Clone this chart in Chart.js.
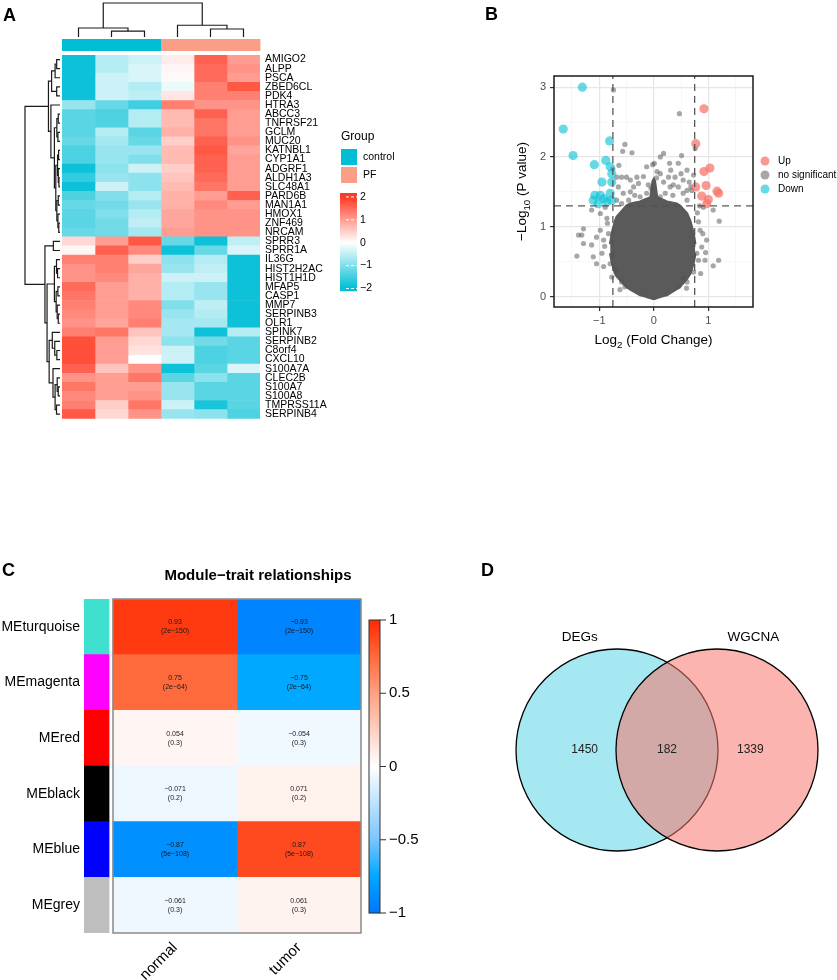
<!DOCTYPE html>
<html>
<head>
<meta charset="utf-8">
<script src="https://cdn.jsdelivr.net/npm/chart.js@4.4.1/dist/chart.umd.min.js"></script>
<style>
  body { margin: 0; background: #fff; }
  #page { position: relative; width: 837px; height: 980px; background: #fff; overflow: hidden; }
  canvas { position: absolute; }
  .tag { position: absolute; font: bold 18px/18px "Liberation Sans", Arial, sans-serif; color: #000; }
</style>
</head>
<body>
<div id="page">
  <canvas id="heatA" width="430" height="430" style="left:0;top:0"></canvas>
  <canvas id="volcanoB" width="407" height="360" style="left:430px;top:0"></canvas>
  <canvas id="traitC" width="430" height="420" style="left:0;top:560px"></canvas>
  <canvas id="vennD" width="407" height="420" style="left:430px;top:560px"></canvas>
  <div class="tag" style="left:3px;top:6px">A</div>
  <div class="tag" style="left:485px;top:5px">B</div>
  <div class="tag" style="left:2px;top:561px">C</div>
  <div class="tag" style="left:481px;top:561px">D</div>
</div>
<script>
// ---------- panel A: heatmap of DEGs ----------
const genes = ['AMIGO2','ALPP','PSCA','ZBED6CL','PDK4','HTRA3','ABCC3','TNFRSF21','GCLM','MUC20',
  'KATNBL1','CYP1A1','ADGRF1','ALDH1A3','SLC48A1','PARD6B','MAN1A1','HMOX1','ZNF469','NRCAM',
  'SPRR3','SPRR1A','IL36G','HIST2H2AC','HIST1H1D','MFAP5','CASP1','MMP7','SERPINB3','OLR1',
  'SPINK7','SERPINB2','C8orf4','CXCL10','S100A7A','CLEC2B','S100A7','S100A8','TMPRSS11A','SERPINB4'];
const sampleGroup = ['control','control','control','PF','PF','PF'];
const groupNames = ['control','PF'];
const groupColors = ['#00BED6','#FB9E86'];
// z-scores, one row per gene, columns = samples
const zScores = [
  [-1.9,-0.6,-0.4,0.2,1.6,1.0],[-1.9,-0.6,-0.3,0.1,1.5,1.1],[-1.9,-0.4,-0.3,0.05,1.5,1.0],
  [-1.9,-0.4,-0.6,-0.15,1.3,1.7],[-1.9,-0.4,-0.5,0.25,1.3,1.3],[-0.8,-1.2,-1.5,1.3,1.1,1.1],
  [-1.3,-1.4,-0.6,0.7,1.6,1.0],[-1.3,-1.4,-0.6,0.7,1.4,1.0],[-1.3,-0.6,-1.3,0.8,1.4,1.0],
  [-1.2,-0.7,-1.2,0.5,1.6,1.1],[-1.4,-0.8,-0.8,0.7,1.7,0.9],[-1.4,-0.8,-1.0,0.7,1.6,1.0],
  [-1.9,-0.9,-0.4,0.5,1.6,1.0],[-1.6,-0.8,-0.9,0.6,1.5,1.0],[-1.9,-0.4,-0.9,0.7,1.4,1.0],
  [-1.4,-1.0,-0.6,0.8,1.0,1.6],[-1.2,-1.1,-0.8,0.8,1.2,1.0],[-1.3,-1.0,-0.6,0.9,1.1,1.1],
  [-1.3,-1.1,-0.5,0.9,1.1,1.1],[-1.2,-1.1,-0.7,1.0,1.1,1.1],
  [0.4,1.0,1.7,-1.2,-1.9,-0.5],[0.1,1.6,1.2,-1.9,-1.2,-0.3],[1.3,1.3,0.5,-0.9,-0.6,-1.9],
  [1.1,1.3,0.9,-0.8,-0.5,-1.9],[1.1,1.2,0.8,-0.4,-0.4,-1.9],[1.5,1.0,0.8,-0.6,-0.8,-1.9],
  [1.4,1.0,0.8,-0.6,-0.8,-1.9],[1.3,1.0,1.2,-1.0,-0.5,-1.9],[1.2,1.0,1.2,-0.8,-0.6,-1.9],
  [1.1,0.9,1.3,-0.7,-0.7,-1.9],[1.3,1.4,0.6,-0.7,-1.9,-0.6],[1.8,1.0,0.4,-0.9,-1.1,-1.3],
  [1.8,1.0,0.3,-0.4,-1.4,-1.3],[1.8,1.0,0.0,-0.4,-1.4,-1.3],[1.6,0.6,1.1,-1.9,-1.3,-0.3],
  [1.1,1.0,1.4,-1.3,-0.9,-1.3],[1.4,1.0,1.0,-0.8,-1.3,-1.3],[1.2,1.0,1.1,-0.8,-1.3,-1.3],
  [1.3,0.5,1.4,-0.4,-1.8,-1.3],[1.7,0.4,1.1,-0.8,-0.9,-1.4]
];
const heatBreaks = [2, 1, 0, -1, -2];
// dendrograms: [height, left, right], leaves are indices
const colTree = [10, [2.65, 0, [1.7, 1, 2]], [3.45, 3, [2.35, 4, 5]]];
const rowTree = [10,
  [3.3,
    [2.4, [1.4, [0.95, 0, 1], 2], [0.95, 3, 4]],
    [2.6, 5, [1.6, [0.9, [0.5, 6, 7], [0.6, 8, 9]],
      [1.2, [0.7, [0.4, 10, 11], [0.5, 12, [0.3, 13, 14]]], [0.9, [0.5, 15, 16], [0.6, 17, [0.35, 18, 19]]]]]]],
  [4.3, [1.9, 20, 21],
    [3.7, [1.6, [1.0, 22, [0.7, 23, 24]], [1.1, [0.6, 25, 26], [0.8, 27, [0.5, 28, 29]]]],
      [3.1, [2.2, 30, [1.5, 31, [0.9, 32, 33]]], [2.0, 34, [1.4, [0.8, 35, [0.5, 36, 37]], [1.0, 38, 39]]]]]]
];

// ---------- panel B: volcano ----------
const fcCut = 0.75;
const pCut = 1.3;
const upPoints = [[0.92,2.69],[0.77,2.19],[1.03,1.84],[0.92,1.79],[0.96,1.59],[0.77,1.57],
  [1.16,1.51],[1.19,1.48],[0.88,1.44],[1.00,1.39],[0.97,1.33]];
const downPoints = [[-1.31,3.0],[-1.66,2.40],[-1.48,2.02],[-0.81,2.23],[-1.09,1.89],[-0.88,1.95],
  [-0.80,1.86],[-0.77,1.76],[-0.95,1.64],[-0.77,1.64],[-1.08,1.45],[-0.98,1.45],[-1.11,1.38],
  [-0.92,1.40],[-1.02,1.33],[-0.80,1.48],[-0.77,1.38],[-0.86,1.36]];
const nsPoints = [[-0.74,2.96],[0.47,2.62],[-0.53,2.18],[-0.57,2.08],[-0.40,2.06],[0.18,2.05],[0.12,2.00],
  [0.51,2.02],[0.76,2.12],[0.29,1.91],[0.45,1.91],[-0.64,1.88],[-0.02,1.89],[0.61,1.81],[-0.59,1.71],
  [-0.31,1.71],[-0.19,1.72],[0.06,1.79],[0.27,1.71],[0.39,1.71],[0.54,1.67],[0.73,1.74],[-0.28,1.62],
  [-0.10,1.60],[0.36,1.60],[0.45,1.57],[-0.56,1.48],[-0.43,1.50],[-0.25,1.43],[0.21,1.48],[0.54,1.48],
  [0.70,1.52],[-0.68,1.38],[-0.65,1.57],[-1.14,1.24],[-0.98,1.19],[-0.89,1.28],[0.91,1.28],[1.09,1.24],
  [1.20,1.08],[-1.29,0.97],[-1.38,0.88],[-1.32,0.88],[-1.29,0.76],[-1.14,0.74],[-1.05,0.85],[-0.98,0.95],
  [-0.92,0.81],[-1.41,0.58],[-1.11,0.57],[-1.05,0.47],[-0.95,0.62],[0.82,1.07],[0.85,0.95],[0.97,0.81],
  [0.88,0.71],[0.79,0.62],[0.94,0.52],[1.09,0.44],[1.19,0.52],[0.82,0.52],[-0.92,0.43],[-0.80,0.47],
  [-0.77,0.28],[-0.59,0.21],[0.61,0.21],[0.54,0.26],[0.73,0.35],[-0.53,0.14],[0.45,0.14],[-0.68,0.38],
  [-0.75,1.83],[-0.68,1.71],[-0.50,1.71],[-0.43,1.67],[-0.13,1.86],[0.01,1.91],[0.12,1.76],[0.31,1.81],
  [0.50,1.76],[0.65,1.64],[0.68,1.57],[0.61,1.52],[-0.37,1.57],[0.18,1.64],[0.30,1.57],[0.12,1.43],
  [-0.13,1.48],[-0.59,1.33],[0.61,1.38],[-0.46,1.38],[-0.85,1.05],[-0.90,0.72],[0.90,0.90],[0.95,0.63],
  [0.86,0.33],[-0.83,0.90],[-0.86,1.12],[0.80,1.20],[0.84,1.30],[-0.35,1.45],[0.35,1.45],[-0.05,1.55],
  [0.05,1.70],[-0.62,0.10],[0.60,0.12]];
// outline of the dense core of non-significant genes
const cloudX    = [-0.80,-0.77,-0.71,-0.68,-0.50,-0.43,-0.25,-0.19,-0.06,-0.02,0,0.02,0.06,0.18,0.24,0.42,0.48,0.61,0.67,0.73,0.76];
const cloudLow  = [0.62,0.50,0.33,0.29,0.14,0.10,0.02,0.01,-0.02,-0.03,-0.03,-0.03,-0.02,0.01,0.02,0.11,0.14,0.26,0.33,0.48,0.62];
const cloudHigh = [0.75,0.90,1.08,1.14,1.30,1.33,1.36,1.38,1.42,1.65,1.68,1.65,1.42,1.38,1.36,1.33,1.30,1.19,1.08,0.90,0.75];
const volX = [-1.83, 1.82];
const volY = [-0.15, 3.16];
const volXTicks = [-1.5,-1,-0.5,0,0.5,1,1.5];
const volYTicks = [0,0.5,1,1.5,2,2.5,3];

// ---------- panel C: module-trait ----------
const modules = ['MEturquoise','MEmagenta','MEred','MEblack','MEblue','MEgrey'];
const moduleColors = ['#40E0D0','#FF00FF','#FF0000','#000000','#0000FF','#BEBEBE'];
const traits = ['normal','tumor'];
const corNormal = [0.93, 0.75, 0.054, -0.071, -0.87, -0.061];
const corTumor = [-0.93, -0.75, -0.054, 0.071, 0.87, 0.061];
const pNormal = ['2e\u2212150','2e\u221264','0.3','0.2','5e\u2212108','0.3'];
const pTumor = ['2e\u2212150','2e\u221264','0.3','0.2','5e\u2212108','0.3'];
const corBreaks = [1, 0.5, 0, -0.5, -1];

// ---------- panel D: Venn ----------
const setNames = ['DEGs','WGCNA'];
const vennCounts = [1450, 182, 1339];
const vennCenters = [[-0.5, 0], [0.5, 0]];
const vennRadius = 1.01;

// ---------- helpers ----------
const FONT = '"Liberation Sans", Arial, Helvetica, sans-serif';
Chart.defaults.font.family = FONT;
Chart.defaults.color = '#000';
Chart.defaults.animation = false;

const heatStops = [[-2,[0,190,214]],[0,[255,255,255]],[2,[255,58,36]]];
const corStops = [[-1,[0,118,255]],[-0.75,[0,168,255]],[-0.5,[120,198,255]],[0,[255,255,255]],
  [0.5,[255,160,130]],[0.75,[255,106,60]],[1,[255,40,0]]];

function lerpColor(stops, v) {
  if (v <= stops[0][0]) return 'rgb(' + stops[0][1].join(',') + ')';
  for (let i = 1; i < stops.length; i++) {
    if (v <= stops[i][0]) {
      const [v0, c0] = stops[i - 1], [v1, c1] = stops[i];
      const t = (v - v0) / (v1 - v0);
      return 'rgb(' + c0.map((c, k) => Math.round(c + (c1[k] - c) * t)).join(',') + ')';
    }
  }
  return 'rgb(' + stops[stops.length - 1][1].join(',') + ')';
}

function minus(s) { return String(s).replace('-', '\u2212'); }

// draws a dendrogram; toXY maps (leaf position, height) -> canvas point
function drawTree(ctx, node, leafPos, toXY) {
  if (typeof node === 'number') return { p: leafPos(node), h: 0 };
  const [h, l, r] = node;
  const a = drawTree(ctx, l, leafPos, toXY);
  const b = drawTree(ctx, r, leafPos, toXY);
  const pts = [toXY(a.p, a.h), toXY(a.p, h), toXY(b.p, h), toXY(b.p, b.h)];
  ctx.beginPath();
  ctx.moveTo(pts[0][0], pts[0][1]);
  pts.slice(1).forEach(p => ctx.lineTo(p[0], p[1]));
  ctx.stroke();
  return { p: (a.p + b.p) / 2, h };
}

function drawRich(ctx, parts, cx, baseY, size) {
  const widths = parts.map(([t, sub]) => {
    ctx.font = (sub ? size * 0.72 : size) + 'px ' + FONT;
    return ctx.measureText(t).width;
  });
  let x = cx - widths.reduce((s, w) => s + w, 0) / 2;
  ctx.textAlign = 'left';
  ctx.textBaseline = 'alphabetic';
  parts.forEach(([t, sub], i) => {
    ctx.font = (sub ? size * 0.72 : size) + 'px ' + FONT;
    ctx.fillText(t, x, baseY + (sub ? size * 0.3 : 0));
    x += widths[i];
  });
}

// ---------- chart A ----------
const heatAExtras = {
  id: 'heatAExtras',
  afterDraw(chart) {
    const { ctx, chartArea: area, scales: { x: xs, y: ys } } = chart;
    ctx.save();
    // group annotation
    sampleGroup.forEach((g, j) => {
      const x0 = xs.getPixelForValue(j), x1 = xs.getPixelForValue(j + 1);
      ctx.fillStyle = groupColors[groupNames.indexOf(g)];
      ctx.fillRect(x0, area.top - 16, x1 - x0 + 0.4, 12);
    });
    // dendrograms
    ctx.strokeStyle = '#1a1a1a';
    ctx.lineWidth = 1.2;
    const leafY = area.top - 18, rootY = 3;
    drawTree(ctx, colTree, i => xs.getPixelForValue(i + 0.5),
      (p, h) => [p, leafY - h * (leafY - rootY) / 10]);
    const leafX = area.left - 2, rootX = 25;
    drawTree(ctx, rowTree, i => ys.getPixelForValue(i),
      (p, h) => [leafX - h * (leafX - rootX) / 10, p]);
    // legend
    ctx.fillStyle = '#000';
    ctx.textAlign = 'left';
    ctx.textBaseline = 'middle';
    ctx.font = '12px ' + FONT;
    ctx.fillText('Group', 341, 137);
    ctx.font = '10.5px ' + FONT;
    groupNames.forEach((g, i) => {
      ctx.fillStyle = groupColors[i];
      ctx.fillRect(341, 149 + i * 18, 16, 16);
      ctx.fillStyle = '#000';
      ctx.fillText(g, 363, 157 + i * 18);
    });
    // colour key
    const zeroY = 242.7, unit = 22.9;
    for (let y = 193; y < 291; y++) {
      ctx.fillStyle = lerpColor(heatStops, (zeroY - y - 0.5) / unit);
      ctx.fillRect(340, y, 17, 1.2);
    }
    ctx.strokeStyle = '#fff';
    ctx.lineWidth = 1;
    ctx.setLineDash([3, 2]);
    heatBreaks.forEach(v => {
      if (v === 0) return;
      const y = zeroY - v * unit;
      ctx.beginPath(); ctx.moveTo(346, y); ctx.lineTo(357, y); ctx.stroke();
    });
    ctx.setLineDash([]);
    ctx.fillStyle = '#000';
    heatBreaks.forEach(v => ctx.fillText(minus(v), 360, zeroY - v * unit));
    ctx.restore();
  }
};

new Chart(document.getElementById('heatA'), {
  type: 'bar',
  data: {
    labels: genes,
    datasets: sampleGroup.map((g, j) => ({
      data: genes.map(() => [j, j + 1]),
      backgroundColor: zScores.map(row => lerpColor(heatStops, row[j])),
      borderWidth: 0,
      barPercentage: 1,
      categoryPercentage: 1,
      grouped: false
    }))
  },
  options: {
    indexAxis: 'y',
    responsive: false,
    events: [],
    layout: { padding: { left: 62, top: 55, right: 0, bottom: 10 } },
    plugins: { legend: { display: false }, tooltip: { enabled: false } },
    scales: {
      x: { type: 'linear', min: 0, max: sampleGroup.length, display: false },
      y: {
        position: 'right',
        grid: { display: false, drawTicks: false },
        border: { display: false },
        ticks: { autoSkip: false, padding: 5, font: { size: 10.5 }, color: '#000' },
        afterFit: s => { s.width = 170; }
      }
    }
  },
  plugins: [heatAExtras]
});

// ---------- chart B ----------
const upColor = 'rgba(248,118,109,0.75)';
const downColor = 'rgba(0,191,212,0.6)';
const nsColor = 'rgba(80,80,80,0.5)';
const cloudColor = '#5a5a5a';

const volcanoExtras = {
  id: 'volcanoExtras',
  afterDraw(chart) {
    const { ctx, chartArea: a } = chart;
    ctx.save();
    ctx.strokeStyle = '#1a1a1a';
    ctx.lineWidth = 1.5;
    ctx.strokeRect(a.left, a.top, a.right - a.left, a.bottom - a.top);
    ctx.fillStyle = '#000';
    drawRich(ctx, [['Log', 0], ['2', 1], [' (Fold Change)', 0]], (a.left + a.right) / 2, 344, 13.5);
    ctx.save();
    ctx.translate(96, (a.top + a.bottom) / 2);
    ctx.rotate(-Math.PI / 2);
    drawRich(ctx, [['\u2212Log', 0], ['10', 1], [' (P value)', 0]], 0, 0, 13.5);
    ctx.restore();
    const items = [['Up', upColor], ['no significant', nsColor], ['Down', downColor]];
    ctx.font = '10px ' + FONT;
    ctx.textBaseline = 'middle';
    ctx.textAlign = 'left';
    items.forEach(([t, c], i) => {
      const y = 161 + i * 14;
      ctx.fillStyle = c;
      ctx.beginPath(); ctx.arc(335, y, 4.5, 0, Math.PI * 2); ctx.fill();
      ctx.fillStyle = '#000';
      ctx.fillText(t, 348, y);
    });
    ctx.restore();
  }
};

const isMajor = v => Number.isInteger(v);
const dashLine = { showLine: true, borderColor: 'rgba(80,80,80,0.95)', borderWidth: 1.3,
  borderDash: [7, 5], pointRadius: 0, fill: false, order: 0 };

new Chart(document.getElementById('volcanoB'), {
  type: 'line',
  data: {
    datasets: [
      { data: cloudX.map((x, i) => ({ x, y: cloudLow[i] })), showLine: true, borderColor: cloudColor,
        borderWidth: 2.5, pointRadius: 0, fill: false, order: 6 },
      { data: cloudX.map((x, i) => ({ x, y: cloudHigh[i] })), showLine: true, borderColor: cloudColor,
        borderWidth: 2.5, pointRadius: 0, fill: '-1', backgroundColor: cloudColor, order: 6 },
      { data: nsPoints.map(p => ({ x: p[0], y: p[1] })), showLine: false, pointRadius: 2.6,
        pointBackgroundColor: nsColor, pointBorderWidth: 0, order: 5 },
      Object.assign({ data: [{ x: -fcCut, y: volY[0] }, { x: -fcCut, y: volY[1] }] }, dashLine),
      Object.assign({ data: [{ x: fcCut, y: volY[0] }, { x: fcCut, y: volY[1] }] }, dashLine),
      Object.assign({ data: [{ x: volX[0], y: pCut }, { x: volX[1], y: pCut }] }, dashLine),
      { data: downPoints.map(p => ({ x: p[0], y: p[1] })), showLine: false, pointRadius: 4.6,
        pointBackgroundColor: downColor, pointBorderWidth: 0, order: 1 },
      { data: upPoints.map(p => ({ x: p[0], y: p[1] })), showLine: false, pointRadius: 4.6,
        pointBackgroundColor: upColor, pointBorderWidth: 0, order: 1 }
    ]
  },
  options: {
    responsive: false,
    events: [],
    layout: { padding: { top: 76, right: 84, left: 0, bottom: 0 } },
    plugins: { legend: { display: false }, tooltip: { enabled: false } },
    scales: {
      x: {
        type: 'linear', min: volX[0], max: volX[1],
        afterBuildTicks: s => { s.ticks = volXTicks.map(v => ({ value: v })); },
        ticks: { callback: v => isMajor(v) ? minus(v) : '', font: { size: 11 }, color: '#4D4D4D',
          padding: 3, maxRotation: 0, autoSkip: false },
        grid: {
          color: c => isMajor(c.tick.value) ? '#E6E6E6' : '#F2F2F2',
          lineWidth: c => isMajor(c.tick.value) ? 1.2 : 0.6,
          tickColor: c => isMajor(c.tick.value) ? '#333' : 'rgba(0,0,0,0)',
          tickLength: 4
        },
        border: { display: false },
        afterFit: s => { s.height = 53; }
      },
      y: {
        type: 'linear', min: volY[0], max: volY[1],
        afterBuildTicks: s => { s.ticks = volYTicks.map(v => ({ value: v })); },
        ticks: { callback: v => isMajor(v) ? minus(v) : '', font: { size: 11 }, color: '#4D4D4D',
          padding: 4, autoSkip: false },
        grid: {
          color: c => isMajor(c.tick.value) ? '#E6E6E6' : '#F2F2F2',
          lineWidth: c => isMajor(c.tick.value) ? 1.2 : 0.6,
          tickColor: c => isMajor(c.tick.value) ? '#333' : 'rgba(0,0,0,0)',
          tickLength: 4
        },
        border: { display: false },
        afterFit: s => { s.width = 124; }
      }
    }
  },
  plugins: [volcanoExtras]
});

// ---------- chart C ----------
const colourColumn = [-0.234, -0.032];
const traitExtras = {
  id: 'traitExtras',
  afterDraw(chart) {
    const { ctx, chartArea: a, scales: { x: xs } } = chart;
    ctx.save();
    ctx.fillStyle = '#000';
    ctx.font = 'bold 15px ' + FONT;
    ctx.textAlign = 'center';
    ctx.textBaseline = 'alphabetic';
    ctx.fillText('Module\u2212trait relationships', 258, 20);
    const x0 = xs.getPixelForValue(0), x1 = xs.getPixelForValue(traits.length);
    ctx.strokeStyle = '#8a8a8a';
    ctx.lineWidth = 1.5;
    ctx.strokeRect(x0, a.top, x1 - x0, a.bottom - a.top);
    // cell text
    ctx.fillStyle = '#1a1a1a';
    ctx.font = '7px ' + FONT;
    ctx.textBaseline = 'middle';
    [[corNormal, pNormal], [corTumor, pTumor]].forEach(([cors, ps], k) => {
      chart.getDatasetMeta(k + 1).data.forEach((bar, i) => {
        const cx = (bar.x + bar.base) / 2;
        ctx.fillText(minus(cors[i]), cx, bar.y - 4.5);
        ctx.fillText('(' + ps[i] + ')', cx, bar.y + 4.5);
      });
    });
    // colour key
    const top = 60, bottom = 353, left = 369, w = 11;
    const valY = v => (top + bottom) / 2 - v * (bottom - top) / 2;
    for (let y = top; y < bottom; y++) {
      ctx.fillStyle = lerpColor(corStops, ((top + bottom) / 2 - y - 0.5) / ((bottom - top) / 2));
      ctx.fillRect(left, y, w, 1.2);
    }
    ctx.strokeStyle = '#333';
    ctx.lineWidth = 1;
    ctx.strokeRect(left, top, w, bottom - top);
    ctx.font = '15px ' + FONT;
    ctx.textAlign = 'left';
    ctx.fillStyle = '#000';
    corBreaks.forEach(v => {
      const y = valY(v);
      ctx.beginPath(); ctx.moveTo(left + w, y); ctx.lineTo(left + w + 6, y); ctx.stroke();
      ctx.fillText(minus(v), left + w + 9, y);
    });
    ctx.restore();
  }
};

new Chart(document.getElementById('traitC'), {
  type: 'bar',
  data: {
    labels: modules,
    datasets: [
      { data: modules.map(() => colourColumn), backgroundColor: moduleColors },
      { data: modules.map(() => [0, 1]), backgroundColor: corNormal.map(v => lerpColor(corStops, v)) },
      { data: modules.map(() => [1, 2]), backgroundColor: corTumor.map(v => lerpColor(corStops, v)) }
    ].map(d => Object.assign(d, { borderWidth: 0, barPercentage: 1, categoryPercentage: 1, grouped: false }))
  },
  options: {
    indexAxis: 'y',
    responsive: false,
    events: [],
    layout: { padding: { top: 39, right: 69, left: 0, bottom: 0 } },
    plugins: { legend: { display: false }, tooltip: { enabled: false } },
    scales: {
      x: {
        type: 'linear', min: colourColumn[0], max: traits.length,
        afterBuildTicks: s => { s.ticks = traits.map((t, i) => ({ value: i + 0.5 })); },
        ticks: { callback: (v, i) => traits[i], font: { size: 15 }, color: '#000',
          minRotation: 45, maxRotation: 45, padding: 6, autoSkip: false },
        grid: { display: false, drawTicks: false },
        border: { display: false },
        afterFit: s => { s.height = 47; }
      },
      y: {
        position: 'left',
        grid: { display: false, drawTicks: false },
        border: { display: false },
        ticks: { font: { size: 14 }, color: '#000', padding: 4, autoSkip: false },
        afterFit: s => { s.width = 84; }
      }
    }
  },
  plugins: [traitExtras]
});

// ---------- chart D ----------
const vennFills = ['rgba(0,188,214,0.35)', 'rgba(248,118,109,0.55)'];
const radiusPx = chart => chart.scales.x.getPixelForValue(vennRadius) - chart.scales.x.getPixelForValue(0);
const vennExtras = {
  id: 'vennExtras',
  afterDraw(chart) {
    const { ctx } = chart;
    const xs = chart.scales.x, ys = chart.scales.y;
    const r = radiusPx(chart);
    const [L, R] = vennCenters.map(c => [xs.getPixelForValue(c[0]), ys.getPixelForValue(c[1])]);
    ctx.save();
    ctx.fillStyle = '#000';
    ctx.textAlign = 'center';
    ctx.textBaseline = 'middle';
    ctx.font = '13.5px ' + FONT;
    ctx.fillText(setNames[0], L[0] - 0.37 * r, L[1] - r - 12);
    ctx.fillText(setNames[1], R[0] + 0.36 * r, R[1] - r - 12);
    ctx.fillStyle = '#222';
    ctx.font = '12px ' + FONT;
    ctx.fillText(vennCounts[0], L[0] - 0.32 * r, L[1]);
    ctx.fillText(vennCounts[1], (L[0] + R[0]) / 2, L[1]);
    ctx.fillText(vennCounts[2], R[0] + 0.33 * r, R[1]);
    ctx.restore();
  }
};

new Chart(document.getElementById('vennD'), {
  type: 'scatter',
  data: {
    datasets: [{
      data: vennCenters.map(c => ({ x: c[0], y: c[1] })),
      backgroundColor: vennFills,
      borderColor: '#000',
      borderWidth: 1.3,
      pointRadius: ctx => radiusPx(ctx.chart),
      clip: false
    }]
  },
  options: {
    responsive: false,
    events: [],
    layout: { padding: { left: 47, top: 10, right: 0, bottom: 50 } },
    plugins: { legend: { display: false }, tooltip: { enabled: false } },
    scales: {
      x: { type: 'linear', min: -1.9, max: 1.7, display: false },
      y: { type: 'linear', min: -1.8, max: 1.8, display: false }
    }
  },
  plugins: [vennExtras]
});
</script>
</body>
</html>
